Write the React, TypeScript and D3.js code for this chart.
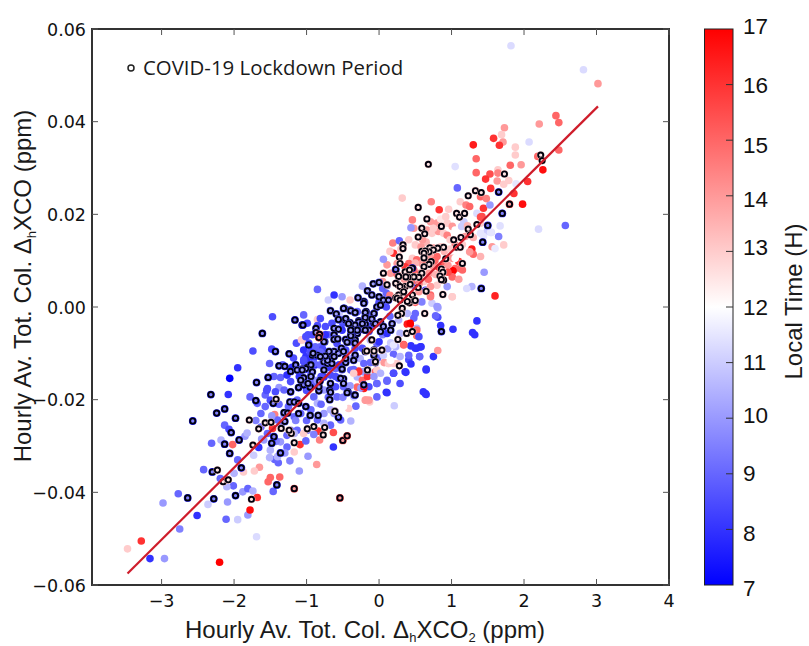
import * as d3 from 'd3'

type Pt = [number, number, number]

// [dCO2 ppm, dCO ppm, local hour]
const upperFilled: Pt[] = [
  [1.82,.0564,11.3],[2.82,.0512,11.3],[3.02,.0482,14],[2.44,.0413,15],[2.48,.0398,15],[2.21,.0395,14],[1.73,.0387,14],[1.69,.0372,13],
  [1.58,.0364,16],[1.71,.0356,14],[1.66,.0349,16],[1.30,.0350,16.5],[2.07,.0356,11.3],[1.88,.0345,13],[1.88,.0328,13],[2.48,.0339,15],
  [1.34,.0320,15],[1.05,.0303,11.4],[1.96,.0307,14],[1.81,.0306,15],[2.26,.0296,16.7],[2.19,.0325,15],[1.34,.0290,15],[1.64,.0296,13],
  [1.64,.0289,14.5],[1.53,.0287,15.5],[1.47,.0276,16],[1.63,.0272,14],[1.72,.0265,13],[1.79,.0273,13],[1.89,.0266,11.5],[2.05,.0271,16],
  [1.54,.0256,16],[1.08,.0257,9],[1.86,.0245,16],[1.40,.0238,15],[1.48,.0234,14.5],[.32,.0235,13],[.72,.0227,14.5],[1.12,.0227,13],
  [1.20,.0220,14.5],[1.25,.0217,15],[1.98,.0222,16.7],[.83,.0210,16],[.96,.0211,13],[1.40,.0194,15.5],[.46,.0188,14.5],[2.20,.0168,11.3],
  [2.57,.0176,9],[1.67,.0175,11.4],[1.54,.0161,11.5],[1.65,.0152,9.5],[1.72,.0134,13],[1.56,.0130,14],[1.60,.0126,11.6],[.44,.0171,10],
  [.19,.0138,14.5],[.28,.0143,9],[.06,.0103,10],[1.60,.0024,16.3],[1.45,.0075,10],[1.28,.0044,10.5],[1.21,.0040,11.3],[1.28,.0125,16.5],
  [1.30,.0114,15],[1.40,.0109,13.5],[1.25,.0119,14],[.81,0,10],[1.01,.0022,13],[.59,.0011,9.5],[.71,.0022,14.5],
]

const pinkCluster: Pt[] = [
  [.78,.0177,13],[.71,.0184,14],[.66,.0166,14],[.80,.0181,14],[.73,.0159,13],[.82,.0163,14],[.89,.0159,13],[.94,.0181,13],[1.01,.0174,14],
  [.94,.0155,14.5],[1.05,.0166,12],[.98,.0145,13],[1.05,.0134,14.5],[1.19,.0152,14],[1.14,.0174,11],[1.17,.0184,11],[1.35,.0202,11.3],
  [1.42,.0195,15.5],[1.44,.0213,16],[1.53,.0220,10],[1.40,.0181,13],[1.49,.0163,11],[1.40,.0159,11.5],[1.44,.0152,11.5],[1.55,.0161,11.4],
  [.48,.0170,14],[.41,.0145,13],[.50,.0134,13],[.46,.0105,13],[.52,.0102,15],[.59,.0094,14],[.75,.0127,14],[.80,.0109,15],[.62,.0116,13],
  [1.01,.0105,14],[1.10,.0098,16],[1.05,.0083,15],[1.12,.0083,15],[1.02,.0078,17],[1.15,.0080,15],[1.01,.0065,15],[.89,.0091,15],[.75,.0087,14],
  [.69,.0073,14],[.57,.0073,15],[.48,.0080,15],[.41,.0094,15],[.36,.0087,16],[.25,.0094,14],[.20,.0116,16],[.11,.0091,14],[.16,.0073,14],
  [.85,.0037,12],[.80,.0047,13],[.71,.0044,14],[.62,.0055,13],[.55,.0033,14],[.71,.0026,15],[.73,.0008,11],[.80,.0001,10],[1.01,.0022,13],
  [.94,.0044,10],[.89,.0058,11],[1.05,.0105,12],[1.12,.0116,12],[.65,.0140,13.5],[.85,.0130,13],[.70,.0110,14],[.90,.0120,13.5],[.58,.0130,14],
  [.95,.0090,14],[.78,.0070,13.5],[.35,.0060,14],[.30,.0025,13],[.50,.0010,15],[.15,.0025,14.5],
  [.60,.0145,14],[.50,.0095,13.5],[.66,.0095,15],[.77,.0100,15],[.83,.0085,16],[.95,.0075,15.5],[.45,.0055,15],[.55,.0050,14.5],[.68,.0060,15],
  [.25,.0070,15],[.05,.0055,14],[.15,.0120,13],[.30,.0125,13],[1.10,.0060,14],[.98,.0125,13],[1.15,.0135,13],[1.30,.0150,13.5],[1.22,.0175,13.5],
  [.85,.0190,12.5],[.92,.0195,13],[.75,.0170,13],
]

const centreFilled: Pt[] = [
  [1.35,-.0030,8],[1.02,-.0048,8],[1.29,-.0055,8],[1.32,-.0060,8],[.81,-.0022,8.5],[.85,-.0040,8],[.78,-.0019,9],[.81,-.0002,10.5],
  [.44,-.0084,8],[.52,-.0089,8],[.58,-.0086,8],[.56,-.0107,10],[.75,-.0107,8],[.81,-.0094,14],[.34,-.0081,15.5],[.41,-.0114,8.5],
  [.44,-.0123,8],[.65,-.0134,8],[.37,-.0141,8],[.20,-.0143,8],[.11,-.0160,9],[.10,-.0184,8],[.61,-.0183,8],[.65,-.0189,8],
  [.20,-.0102,9],[.13,-.0122,13],[.07,-.0120,14],[.25,-.0122,13],[.52,-.0062,15],[.43,-.0039,16.5],[.39,-.0037,16.5],[.48,-.0024,9],
  [.52,-.0046,10.5],[.41,-.0052,12],[.27,-.0028,10.5],[.20,-.0039,12],[.29,-.0057,10.5],[.16,-.0077,11],[.23,-.0086,10.5],
  [-.85,.0038,9],[-.62,.0026,8],[-.51,.0022,10],[-.23,.0045,10.5],[-1.01,-.0107,8],[-1.04,-.0114,8.5],[-.88,-.0086,9],[-.97,-.0078,8.5],
  [-1.06,-.0071,13],[-.95,-.0097,8.5],[-.90,-.0122,9],[-.81,-.0125,9],[-.99,-.0172,9],[-.85,-.0158,10],[-.28,-.0140,16],[-.21,-.0172,17],
  [-.23,-.0158,15],[-.16,-.0150,16],[-.14,-.0201,14],[-.19,-.0201,14],[-.35,-.0143,13],[-.03,-.0136,13],[.13,-.0122,13],[.20,-.0122,13],
  [.34,-.0082,15],[.43,-.0035,17],[.52,-.0050,15],[.50,-.0089,8],[.57,-.0086,8],[.55,-.0064,8.5],[.56,-.0107,9],[.41,-.0104,9],
  [.36,-.0140,8],[.20,-.0143,8.5],[.11,-.0158,9],[.65,-.0136,8],[.64,-.0187,8],[.11,-.0185,8],[.21,-.0213,11],[-.03,-.0165,9],
  [-.21,-.0122,9],[-.07,-.0150,10],[.02,-.0143,10.5],[.29,-.0107,10.5],[.20,-.0082,11.5],[.06,-.0104,11],[.16,-.0115,12],[.29,-.0165,8.5],
  [.48,.0047,8],[.64,.0036,8],[.50,-.0014,9],[.39,-.0014,10.5],[.55,.0015,12],[-1.04,-.0017,9],[-.99,-.0035,8.5],
  [-.81,-.0025,8.5],[-.74,-.0042,8.5],[-.65,-.0035,8.5],[-.53,-.0028,9],[-.92,-.0060,8.5],[-.74,-.0060,8],[-.58,-.0071,8.5],[-.51,-.0050,8],
  [-.39,-.0075,8],[-.23,-.0089,8.5],[0,-.0075,8],[.11,-.0057,8],[-.14,-.0053,8.5],[-.46,-.0093,8.5],[-.33,-.0089,8.5],[-.81,-.0097,9],[-1.01,-.0064,8.5],
  [-.20,.0010,8.5],[.05,.0040,9],[-.40,.0015,13],[.10,.0000,8.5],[-.10,-.0020,9],
]

const lowerFilled: Pt[] = [
  [-1.47,-.0021,8.5],[-1.74,-.0095,8.5],[-1.48,-.0091,8.5],[-1.95,-.0131,8],[-2.06,-.0154,7],[-2.08,-.0189,8],[-1.78,-.0194,9],[-1.51,-.0122,9],
  [-1.14,-.0078,8.5],[-.85,-.0027,13],[-1.07,-.0071,13],[-2.13,-.0255,9],[-2.07,-.0264,8.5],[-2.18,-.0287,10.5],[-2.31,-.0294,9],[-2.02,-.0297,15],
  [-1.85,-.0279,10],[-1.82,-.0272,10.5],[-2.42,-.0351,9],[-1.95,-.0330,9],[-2.0,-.0359,10.5],[-2.19,-.0370,9],[-2.01,-.0386,9],[-2.10,-.0388,10.5],
  [-2.77,-.0403,9],[-2.98,-.0423,10],[-2.36,-.0426,11],[-2.09,-.0421,10],[-1.88,-.0399,10],[-1.81,-.0392,9],[-1.74,-.0397,10.5],
  [-1.46,-.0398,9],[-1.68,-.0411,16],[-2.51,-.0450,8],[-2.11,-.0458,9],[-1.95,-.0459,11],[-1.81,-.0449,10],[-1.78,-.0438,16.7],
  [-2.75,-.0479,9.5],[-3.28,-.0505,16],[-3.47,-.0522,13],[-3.16,-.0543,8],[-2.96,-.0543,10],[-2.20,-.0551,17],[-1.69,-.0496,11.3],
  [-1.65,-.0346,14],[-1.72,-.0354,13],[-1.87,-.0356,13],[-1.53,-.0377,15],[-1.50,-.0368,15],[-1.37,-.0367,15],[-.86,-.0340,14],[-1.10,-.0354,10],
  [-.98,-.0322,10],[-1.23,-.0332,9.5],[-1.39,-.0336,9],[-1.44,-.0329,9],[-1.51,-.0325,10.5],[-1.73,-.0320,11],[-1.66,-.0303,8],[-.63,-.0302,8],
  [-1.09,-.0297,16],[-1.01,-.0289,9],[-1.17,-.0313,13],[-1.47,-.0262,16],[-1.44,-.0232,14.5],[-.63,-.0271,15.5],[-.84,-.0268,16],[-.82,-.0287,14.5],
  [-.39,-.0246,10.5],[-.18,-.0201,14],[-.13,-.0205,13],[-.32,-.0214,9],[-.42,-.0219,13],[-.28,-.0138,16],[-.30,-.0173,15],[-.21,-.0176,16.5],
  [-.05,-.0140,15],[-.03,-.0165,9],[-.56,-.0154,8],[-.67,-.0255,9],
]

const blueMass: Pt[] = [
  [-1.54,-.0176,8.5],[-1.57,-.0190,9],[-1.68,-.0208,9],[-1.63,-.0230,9],[-1.57,-.0215,9],[-1.50,-.0201,8.5],[-1.36,-.0152,9],[-1.38,-.0174,10],
  [-1.43,-.0183,8.5],[-1.27,-.0147,8],[-1.22,-.0161,8.5],[-1.31,-.0179,9],[-1.13,-.0201,9],[-1.04,-.0093,8],[-.99,-.0111,8],[-.85,-.0100,8.5],
  [-.81,-.0107,9],[-1.04,-.0118,8.5],[-.88,-.0125,8],[-.76,-.0125,9],[-.67,-.0147,8.5],[-.60,-.0172,8.5],[-.49,-.0172,9],[-.58,-.0194,9],
  [-.76,-.0179,10],[-.90,-.0194,9],[-1.17,-.0237,9],[-1.31,-.0233,10],[-1.40,-.0244,9],[-1.22,-.0266,9],[-1.13,-.0266,9],[-1.27,-.0277,9],
  [-1.36,-.0291,10],[-1.27,-.0302,9],[-1.54,-.0273,9],[-1.63,-.0259,9],[-1.59,-.0287,10],[-1.50,-.0309,10.5],[-1.40,-.0323,10.5],[-.99,-.0266,9],
  [-.85,-.0244,9],[-.76,-.0230,10],[-.67,-.0222,10.5],[-.94,-.0222,9],[-1.04,-.0233,12],[-1.08,-.0230,9],[-.81,-.0086,9],[-.58,-.0079,8.5],
  [-.44,-.0089,12],[-.28,-.0082,13],[-.12,-.0071,10.5],[-.03,-.0079,9],[-.39,-.0111,10.5],[-.26,-.0111,10.5],[-.39,-.0136,9],[-.14,-.0172,8.5],
  [-.03,-.0194,9],[-.30,-.0151,10.5],[-.60,-.0133,9],[-.94,-.0147,8.5],[-.76,-.0151,8],[-.53,-.0244,9],[-.76,-.0251,10.5],[-1.04,-.0273,13],
  [-1.17,-.0273,10.5],[-.85,-.0208,10.5],[-.49,-.0215,12],[-.35,-.0194,11],
  [-1.45,-.0150,9],[-1.33,-.0125,9],[-1.18,-.0110,8.5],[-1.10,-.0150,8],[-1.00,-.0180,8.5],[-.90,-.0165,9],[-1.25,-.0215,9],[-1.38,-.0210,9],
  [-1.48,-.0235,10],[-1.35,-.0255,9.5],[-1.15,-.0245,9.5],[-1.00,-.0245,9],[-.90,-.0275,9.5],[-.80,-.0210,9],[-.70,-.0195,9],[-.60,-.0150,8.5],
  [-.55,-.0125,8],[-.70,-.0130,8],[-.80,-.0150,8.5],[-.90,-.0110,8],[-.78,-.0090,8.5],[-.35,-.0135,9],[-.22,-.0140,10],[-.12,-.0120,9],[-.02,-.0110,9],
  [-.25,-.0175,10],[-.40,-.0170,10],[-.50,-.0195,9.5],[-.62,-.0230,10],[-1.30,-.0315,10],[-1.42,-.0290,9.5],[-1.70,-.0245,9.5],[-1.62,-.0285,10],
  [-1.55,-.0180,8.5],[-1.20,-.0130,8],[-1.02,-.0135,7.5],[-.90,-.0090,8],[-.98,-.0060,8.5],[-.70,-.0060,9],[-.50,-.0035,8.5],[-.30,-.0010,9],
  [-.10,-.0040,8.5],[.05,-.0060,9.5],[.15,-.0020,9],[.12,-.0090,10],[-.85,-.0040,8.5],[-.55,-.0015,11],[-.70,.0015,11],[0,.0010,8.5],[.1,.0030,9],
]

// lockdown rings, grouped by the tint showing under the ring
const lockdownEarly: [number, number][] = [
  [-1.16,-.0028],[-1.06,-.0039],[-1.61,-.0057],[-1.43,-.0096],[-1.24,-.0101],[-1.69,-.0163],[-1.53,-.0152],[-1.38,-.0127],[-1.30,-.0128],
  [-1.22,-.0139],[-1.15,-.0125],[-2.32,-.0189],[-1.70,-.0202],[-2.24,-.0229],[-2.13,-.0220],[-1.98,-.0240],[-2.57,-.0246],[-2.04,-.0271],
  [-1.93,-.0287],[-2.13,-.0296],[-2.06,-.0316],[-1.90,-.0347],[-2.30,-.0356],[-2.64,-.0412],[-2.28,-.0414],[-1.98,-.0407],[-1.41,-.0384],
  [-1.36,-.0315],[-1.45,-.0280],[-1.48,-.0294],[-1.46,-.0208],[-.97,-.0082],[-1.05,-.0039],[1.70,.0202],[1.43,.0140],[1.65,.0248],[1.50,.0176],
  [1.41,.0040],[.86,-.0053],[.46,.0084],[.23,.0081],[-.56,-.0238],[-1.11,-.0174],[-1.04,-.0168],[-.95,-.0173],[-1.22,-.0183],[-1.01,-.0215],
]

const lockdownMid: [number, number][] = [
  [-.87,-.0046],[-.62,-.0046],[-.56,-.0048],[-.62,-.0060],[-.61,-.0069],[-.75,-.0075],[-.92,-.0104],[-.85,-.0104],[-.95,-.0125],[-.99,-.0130],
  [-1.06,-.0134],[-1.13,-.0136],[-.62,-.0096],[-.56,-.0100],[-.69,-.0100],[-.67,-.0113],[-.76,-.0118],[-.71,-.0122],[-.46,-.0120],[-.51,-.0135],
  [-.49,-.0155],[-.83,-.0181],[-.68,-.0179],[-.68,-.0200],[-.43,-.0183],[-.34,-.0190],[-.21,-.0168],[-.16,-.0137],[-.19,-.0096],[-.07,-.0093],
  [-.07,-.0104],[-.05,-.0120],[-.67,-.0008],[-.59,-.0015],[-.56,-.0027],[-.48,-.0003],[-.40,-.0007],[-.33,-.0012],[-.46,-.0028],[-.40,-.0034],
  [-.18,-.0010],[-.07,-.0014],[-.19,-.0021],[-.28,-.0030],[-.30,-.0042],[-.19,-.0037],[-.07,-.0035],[-.14,-.0050],[-.30,-.0057],[-.23,-.0048],
  [-.37,-.0057],[-.33,-.0071],[-.46,-.0070],[-.39,-.0060],[-.21,.0012],[-.03,0],[-.08,.0050],[0,.0053],[.11,.0047],[.24,.0051],[-.16,.0035],
  [-.10,.0026],[0,.0022],[.06,.0015],[.02,.0004],[.13,.0015],[-.29,.0020],[-.21,.0008],[-.49,-.0003],[-.39,-.0008],[-.33,-.0012],[-.56,-.0027],
  [-.46,-.0025],[-.19,-.0012],[-.07,-.0014],[-.19,-.0023],[-.10,-.0026],[.02,-.0032],[-.28,-.0032],[-.33,-.0039],[-.23,-.0036],[-.42,-.0036],
  [-.30,-.0050],[-.19,-.0050],[-.05,-.0036],[.06,-.0042],[.02,-.0053],[.18,-.0036],[.16,-.0050],[-.87,-.0055],[-.76,-.0075],[-.62,-.0070],
  [-.57,-.0069],[-.44,-.0076],[-.52,-.0089],[-.49,-.0096],[-.39,-.0062],[-.39,-.0050],[-.33,-.0078],[-.69,-.0096],[-.62,-.0107],[-.65,-.0122],
  [-.71,-.0115],[-.74,-.0106],[-.81,-.0107],[-.91,-.0100],[-.33,-.0104],[-.35,-.0115],[-.46,-.0111],[-.51,-.0134],[-.76,-.0136],[-.81,-.0158],
  [-.83,-.0172],[-.94,-.0125],[-1.01,-.0133],[-1.06,-.0136],[-.92,-.0140],[-.94,-.0150],[-1.04,-.0153],[-1.08,-.0158],[-.98,-.0165],[-.67,-.0165],
  [-.53,-.0154],[-.49,-.0165],[-.44,-.0185],[-.33,-.0190],[-.67,-.0184],[-.82,-.0161],[-1.31,-.0228],[-1.26,-.0229],[-1.30,-.0247],[-1.11,-.0230],
  [-.95,-.0234],[-.84,-.0234],[-.61,-.0225],[-1.23,-.0205],[-1.17,-.0205],[-1.11,-.0208],
]

const lockdownLate: [number, number][] = [
  [.68,.0308],[2.23,.0328],[2.25,.0316],[1.73,.0287],[1.23,.0240],[1.33,.0251],[1.41,.0247],[.54,.0215],[.66,.0190],[1.07,.0202],[1.11,.0194],
  [1.18,.0202],[.86,.0174],[1.35,.0178],[1.23,.0168],[.59,.0170],[.63,.0158],[.54,.0151],[1.26,.0156],[1.13,.0150],[1.03,.0145],[.33,.0134],
  [.33,.0126],[1.07,.0129],[1.12,.0129],[.70,.0128],[.89,.0129],[.81,.0127],[.75,.0123],[.69,.0119],[.59,.0120],[.64,.0121],[.92,.0104],
  [.62,.0116],[.62,.0106],[.72,.0098],[.69,.0092],[1.15,.0094],[.28,.0108],[.29,.0094],[.62,.0087],[.86,.0082],[.88,.0075],[.36,.0076],
  [.42,.0080],[.84,.0067],[.89,.0058],[.86,.0059],[.59,.0073],[.55,.0064],[.48,.0065],[.40,.0064],[.27,.0066],[.37,.0065],[.06,.0073],[.54,.0042],
  [.65,.0034],[.88,.0027],[.43,.0048],[.36,.0044],[.32,.0042],[.26,.0048],[.23,.0051],[.11,.0048],[.27,.0026],[.23,.0020],[.34,.0022],[.42,.0009],
  [.48,.0014],[.32,-.0003],[.43,.0049],[.29,.0044],[.34,.0033],[.46,.0026],[.25,.0019],[.29,.0015],[.39,.0012],[.50,.0014],[.31,-.0014],[.26,-.0018],
  [.63,-.0014],[.38,-.0057],[.46,-.0053],[.26,-.0070],[-.10,-.0071],[-.17,-.0095],[-.07,-.0095],[.04,-.0093],[-.05,-.0118],[.28,-.0127],[-.16,-.0136],
  [-1.79,-.0244],[-1.66,-.0263],[-1.74,-.0298],[-2.23,-.0352],[-2.15,-.0377],[-2.08,-.0373],[-1.76,-.0415],[-1.42,-.0199],[-1.57,-.0250],[-1.49,-.0249],
  [-.77,-.0276],[-.75,-.0260],[-.90,-.0258],[-.99,-.0263],[-1.17,-.0293],[-1.21,-.0273],[-1.24,-.0266],[-1.35,-.0262],[-.61,-.0225],
]

// dark red under the ring
const lockdownRed: [number, number][] = [
  [-.82,-.0059],[-.54,-.0412],[-.50,-.0288],[-.44,-.0278],[-1.17,-.0392],[1.80,.0222],[-.83,-.0066],
]

const xTicks = [-3, -2, -1, 0, 1, 2, 3, 4]
const yTicks = [-0.06, -0.04, -0.02, 0, 0.02, 0.04, 0.06]
const hourTicks = [7, 8, 9, 10, 11, 12, 13, 14, 15, 16, 17]
const fitLine: [number, number][] = [[-3.47, -.0575], [3.02, .0433]]

const WIDTH = 809
const HEIGHT = 646
const PLOT = { left: 92, right: 669, top: 29, bottom: 585 }
const BAR = { left: 704.5, right: 733, top: 29, bottom: 585 }
// the colorbar labels sit a little off their ticks in the original
const HOUR_LABEL_NUDGE: Record<number, number> = { 7: 3, 8: 4, 9: -1, 10: -3, 11: -1, 12: 0, 13: -4, 14: 3, 15: 5, 16: 0, 17: -3 }

const x = d3.scaleLinear().domain([-3.96, 4]).range([PLOT.left, PLOT.right])
const y = d3.scaleLinear().domain([-0.06, 0.06]).range([PLOT.bottom, PLOT.top])
const hourY = d3.scaleLinear().domain([7, 17]).range([BAR.bottom, BAR.top])
const hourColor = d3.scaleLinear<string>().domain([7, 12, 17]).range(['#0000ff', '#ffffff', '#ff0000'])

const fmt = (v: number) => (v === 0 ? '0.00' : d3.format('.2f')(Math.abs(v)))
const sign = (v: number) => (v < 0 ? '\u2212' : '')

const TICK_FONT = '"DejaVu Sans", sans-serif'
const LABEL_FONT = '"Liberation Sans", Arial, sans-serif'

const filled = [...lowerFilled, ...blueMass, ...centreFilled, ...pinkCluster, ...upperFilled]
const rings: Pt[] = [
  ...lockdownEarly.map(d => [d[0], d[1], 7.5] as Pt),
  ...lockdownMid.map(d => [d[0], d[1], 8.5] as Pt),
  ...lockdownLate.map(d => [d[0], d[1], 13] as Pt),
  ...lockdownRed.map(d => [d[0], d[1], 15.5] as Pt),
]

export default function App() {
  const line = d3.line<[number, number]>().x(d => x(d[0])).y(d => y(d[1]))

  return (
    <svg width={WIDTH} height={HEIGHT} style={{ position: 'absolute', left: 0, top: 0, background: '#fff' }}>
      <defs>
        <linearGradient id="bwr" x1="0" y1="1" x2="0" y2="0">
          {[7, 12, 17].map(h => (
            <stop key={h} offset={(h - 7) / 10} stopColor={hourColor(h)} />
          ))}
        </linearGradient>
        <filter id="soft" x="-5%" y="-5%" width="110%" height="110%">
          <feGaussianBlur stdDeviation="0.4" />
        </filter>
      </defs>

      <g filter="url(#soft)">
        {filled.map((d, i) => (
          <circle key={i} cx={x(d[0])} cy={y(d[1])} r={3.8} fill={hourColor(d[2])} />
        ))}
        {rings.map((d, i) => (
          <g key={i}>
            <circle cx={x(d[0])} cy={y(d[1])} r={3.9} fill={hourColor(d[2])} />
            <circle cx={x(d[0])} cy={y(d[1])} r={2.6} fill="#fff" fillOpacity={0.45} stroke="#05050f" strokeWidth={1.9} />
          </g>
        ))}
        <path d={line(fitLine) as string} fill="none" stroke="#cf1f2c" strokeWidth={2.2} />
      </g>

      {/* frame and ticks */}
      <rect x={PLOT.left} y={PLOT.top} width={PLOT.right - PLOT.left} height={PLOT.bottom - PLOT.top} fill="none" stroke="#333" strokeWidth={2} />
      {xTicks.map(t => (
        <g key={t}>
          <line x1={x(t)} x2={x(t)} y1={PLOT.bottom} y2={PLOT.bottom - 6} stroke="#555" />
          <line x1={x(t)} x2={x(t)} y1={PLOT.top} y2={PLOT.top + 6} stroke="#555" />
          <text x={x(t)} y={606.5} textAnchor="middle" fontFamily={TICK_FONT} fontSize={17.5} fill="#111">
            {t < 0 ? `\u2212${-t}` : t}
          </text>
        </g>
      ))}
      {yTicks.map(t => (
        <g key={t}>
          <line x1={PLOT.left} x2={PLOT.left + 6} y1={y(t)} y2={y(t)} stroke="#555" />
          <line x1={PLOT.right} x2={PLOT.right - 6} y1={y(t)} y2={y(t)} stroke="#555" />
          <text x={86} y={y(t) + 6.5} textAnchor="end" fontFamily={TICK_FONT} fontSize={17.5} fill="#111">
            {sign(t) + fmt(t)}
          </text>
        </g>
      ))}

      {/* legend */}
      <circle cx={131} cy={68} r={3} fill="#fff" stroke="#222" strokeWidth={1.5} />
      <text x={143} y={75} fontFamily='"Open Sans", sans-serif' fontSize={20.4} fill="#1a1a1a">COVID-19 Lockdown Period</text>

      {/* axis titles */}
      <text x={365} y={638} textAnchor="middle" fontFamily={LABEL_FONT} fontSize={24} fill="#1a1a1a">
        Hourly Av. Tot. Col. {'\u0394'}
        <tspan fontSize={13} dy={4}>h</tspan>
        <tspan dy={-4}>XCO</tspan>
        <tspan fontSize={13} dy={4}>2</tspan>
        <tspan dy={-4}> (ppm)</tspan>
      </text>
      <text transform="translate(31,286) rotate(-90)" textAnchor="middle" fontFamily={LABEL_FONT} fontSize={24} fill="#1a1a1a">
        Hourly Av. Tot. Col. {'\u0394'}
        <tspan fontSize={13} dy={5}>h</tspan>
        <tspan dy={-5}>XCO (ppm)</tspan>
      </text>

      {/* colorbar */}
      <rect x={BAR.left} y={BAR.top} width={BAR.right - BAR.left} height={BAR.bottom - BAR.top} fill="url(#bwr)" stroke="#222" strokeWidth={1} />
      {hourTicks.map(h => (
        <g key={h}>
          {h > 7 && h < 17 && <line x1={BAR.right} x2={BAR.right - 7} y1={hourY(h)} y2={hourY(h)} stroke="#333" />}
          <text x={743} y={hourY(h) + HOUR_LABEL_NUDGE[h] + 8} fontFamily={LABEL_FONT} fontSize={22.5} fill="#111">{h}</text>
        </g>
      ))}
      <text transform="translate(802,301.5) rotate(-90)" textAnchor="middle" fontFamily={LABEL_FONT} fontSize={24} fill="#1a1a1a">
        Local Time (H)
      </text>
    </svg>
  )
}
